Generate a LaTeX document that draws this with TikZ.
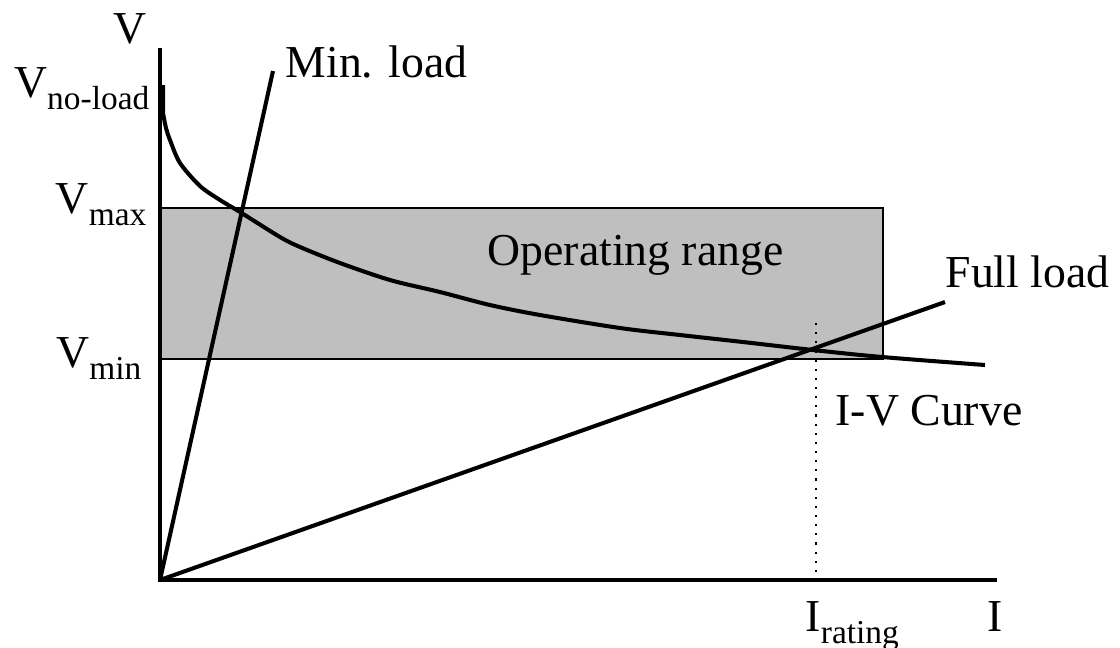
\documentclass[tikz,border=0pt]{standalone}
\usepackage{fontspec}
\setmainfont{Liberation Serif}
\definecolor{rangegray}{gray}{0.75}
\newcommand{\lowsub}[1]{\raisebox{-0.27em}{\fontsize{9.5}{11}\selectfont #1}}

\begin{document}
\begin{tikzpicture}[x=0.01cm, y=-0.01cm, font=\fontsize{13}{15}\selectfont,
    heavy/.style={line width=1.15pt},
    lbl/.style={inner sep=0pt}]
    \useasboundingbox (0,0) rectangle (1120,647);
    \coordinate (O) at (160,580);
    \coordinate (Vtop) at (160,48);
    \coordinate (Iend) at (997,580);
    \coordinate (MinEnd) at (273,71);
    \coordinate (FullEnd) at (945,302);
    \coordinate (Rtop) at (816,323);
    \coordinate (Rbot) at (816,580);
    % operating range
    \draw[fill=rangegray, line width=0.6pt] (160,208) rectangle (883,359);
    \node[lbl, anchor=base west] (range) at (487,265) {Operating range};
    % I-V curve
    \draw[heavy] (163,85) -- (163,113) plot[smooth, tension=0.5] coordinates {(163,113) (166,128) (170,140) (180,163) (200,186) (220,200) (240,212) (280,237) (300,247) (340,263) (390,280) (440,292) (490,305) (540,315) (620,328) (680,335) (743,342) (813,350) (882,357) (985,365)};
    % load lines
    \draw[heavy] (O) -- (MinEnd);
    \draw[heavy] (O) -- (FullEnd);
    \draw[dotted, line width=0.6pt] (Rtop) -- (Rbot);
    % axes
    \draw[heavy] (Vtop) -- (O) -- (Iend);
    \node[lbl, anchor=base] (V) at (130,43) {V};
    \node[lbl, anchor=base east] (Vnl) at (150,97) {V\lowsub{no-load}};
    \node[lbl, anchor=base east] (Vmax) at (147,213) {V\lowsub{max}};
    \node[lbl, anchor=base east] (Vmin) at (142,367) {V\lowsub{min}};
    \node[lbl, anchor=base west] (I) at (987,631) {I};
    \node[lbl, anchor=base west] (Irat) at (805,631) {I\lowsub{rating}};
    \node[lbl, anchor=base west] (minload) at (285,77) {Min. load};
    \node[lbl, anchor=base west] (fullload) at (945,287) {Full load};
    \node[lbl, anchor=base west] (ivcurve) at (835,425) {I-V Curve};
\end{tikzpicture}
\end{document}
